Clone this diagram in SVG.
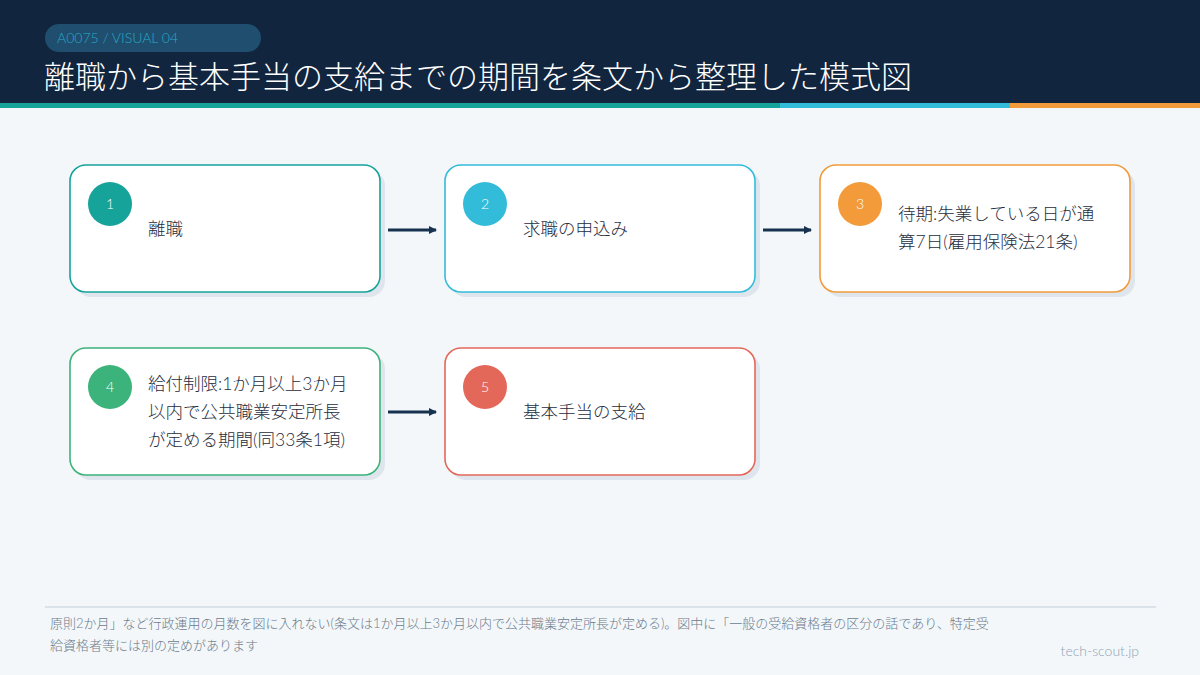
<svg xmlns="http://www.w3.org/2000/svg" width="1200" height="675" viewBox="0 0 1200 675">
<defs>
<style>
.t{font-family:Lato,"Noto Sans CJK JP",sans-serif;font-weight:300}
.card{fill:#fff;stroke-width:1.6}
.sh{fill:#dfe5ec}
.lbl{font-size:17.5px;fill:#1f2d3d}
.num{font-size:14px;fill:#fff}
.cn{stroke:#17324f;stroke-width:3;fill:none;marker-end:url(#ah)}
</style>
<marker id="ah" markerWidth="8" markerHeight="8" refX="7" refY="4" orient="auto" markerUnits="userSpaceOnUse"><path d="M0,0L8,4L0,8z" fill="#17324f"/></marker>
</defs>
<rect width="1200" height="675" fill="#f3f7fa"/>
<rect width="1200" height="104" fill="#11253f"/>
<rect y="103" width="780" height="5" fill="#16a39a"/>
<rect x="780" y="103" width="230" height="5" fill="#33bcd9"/>
<rect x="1010" y="103" width="190" height="5" fill="#f39a3a"/>
<rect x="45" y="24" width="216" height="28" rx="14" fill="#1f4e6e"/>
<text class="t" x="57" y="43" font-size="14" fill="#2aa9c3">A0075 / VISUAL 04</text>
<text class="t" x="44" y="88" font-size="31" fill="#ffffff">離職から基本手当の支給までの期間を条文から整理した模式図</text>
<g id="n1"><rect class="sh" x="75" y="170" width="310" height="127" rx="16"/><rect class="card" x="70" y="165" width="310" height="127" rx="16" stroke="#16a39a"/><circle cx="110" cy="204" r="22" fill="#16a39a"/><text class="t num" x="110" y="209" text-anchor="middle">1</text><text class="t lbl" x="148" y="235">離職</text></g>
<g id="n2"><rect class="sh" x="450" y="170" width="310" height="127" rx="16"/><rect class="card" x="445" y="165" width="310" height="127" rx="16" stroke="#33bcd9"/><circle cx="485" cy="204" r="22" fill="#33bcd9"/><text class="t num" x="485" y="209" text-anchor="middle">2</text><text class="t lbl" x="523" y="235">求職の申込み</text></g>
<g id="n3"><rect class="sh" x="825" y="170" width="310" height="127" rx="16"/><rect class="card" x="820" y="165" width="310" height="127" rx="16" stroke="#f39a3a"/><circle cx="860" cy="204" r="22" fill="#f39a3a"/><text class="t num" x="860" y="209" text-anchor="middle">3</text><text class="t lbl" x="898" y="220">待期:失業している日が通</text><text class="t lbl" x="898" y="248">算7日(雇用保険法21条)</text></g>
<g id="n4"><rect class="sh" x="75" y="353" width="310" height="127" rx="16"/><rect class="card" x="70" y="348" width="310" height="127" rx="16" stroke="#3cb37a"/><circle cx="110" cy="387" r="22" fill="#3cb37a"/><text class="t num" x="110" y="392" text-anchor="middle">4</text><text class="t lbl" x="148" y="390">給付制限:1か月以上3か月</text><text class="t lbl" x="148" y="418">以内で公共職業安定所長</text><text class="t lbl" x="148" y="446">が定める期間(同33条1項)</text></g>
<g id="n5"><rect class="sh" x="450" y="353" width="310" height="127" rx="16"/><rect class="card" x="445" y="348" width="310" height="127" rx="16" stroke="#e4685a"/><circle cx="485" cy="387" r="22" fill="#e4685a"/><text class="t num" x="485" y="392" text-anchor="middle">5</text><text class="t lbl" x="523" y="418">基本手当の支給</text></g>
<g id="connectors"><path class="cn" d="M388,230H436"/><path class="cn" d="M763,230H811"/><path class="cn" d="M388,412H436"/></g>
<rect x="45" y="606" width="1111" height="2" fill="#dbe3ea"/>
<text class="t" x="50" y="628" font-size="13" fill="#6b7c8d">原則2か月」など行政運用の月数を図に入れない(条文は1か月以上3か月以内で公共職業安定所長が定める)。図中に「一般の受給資格者の区分の話であり、特定受</text>
<text class="t" x="50" y="650" font-size="13" fill="#6b7c8d">給資格者等には別の定めがあります</text>
<text class="t" x="1139" y="656" font-size="14" fill="#8fa3b5" text-anchor="end">tech-scout.jp</text>
</svg>
